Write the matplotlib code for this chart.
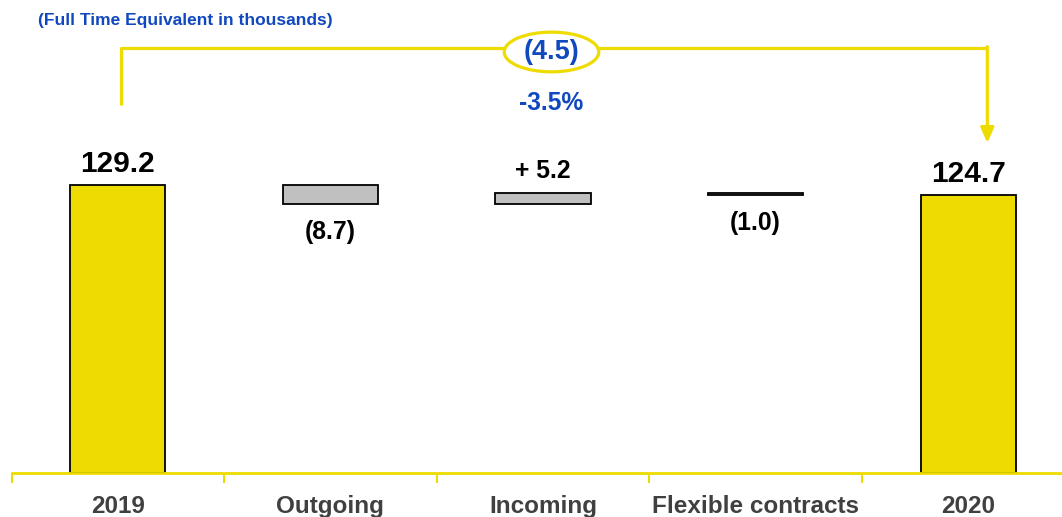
import numpy as np
import matplotlib.pyplot as plt
from matplotlib.patches import Ellipse

plt.rcParams['font.family'] = ['Liberation Sans', 'DejaVu Sans']
plt.rcParams['font.weight'] = 'bold'

categories = ['2019', 'Outgoing', 'Incoming', 'Flexible contracts', '2020']
start_value = 129.2
changes = [-8.7, 5.2, -1.0]
end_value = 124.7
labels = ['129.2', '(8.7)', '+ 5.2', '(1.0)', '124.7']
delta_label = '(4.5)'
pct_label = '-3.5%'
subtitle = '(Full Time Equivalent in thousands)'

YELLOW = '#EEDC00'
BLUE = '#1048C0'
GRAY = '#C0C0C0'

# waterfall bottoms / heights
bottoms = [0]
heights = [start_value]
running = start_value
for c in changes:
    lo = min(running, running + c)
    bottoms.append(lo)
    heights.append(abs(c))
    running += c
bottoms.append(0)
heights.append(end_value)
colors = [YELLOW, GRAY, GRAY, GRAY, YELLOW]

fig = plt.figure(figsize=(10.62, 5.17), dpi=100)
ax = fig.add_axes([11.5 / 1062, 44 / 517, 1 - 11.5 / 1062, 473 / 517])
x = np.arange(len(categories))
ax.bar(x, heights, bottom=bottoms, width=0.447, color=colors,
       edgecolor='black', linewidth=1.3, zorder=2)

ax.set_xlim(-0.5, -0.5 + (1062 - 11.5) / 212.6)
ax.set_ylim(0, 473 / 2.23)

for s in ['top', 'right', 'left']:
    ax.spines[s].set_visible(False)
ax.spines['bottom'].set_color(YELLOW)
ax.spines['bottom'].set_linewidth(2)
ax.set_yticks([])
ax.set_xticks(x)
ax.set_xticklabels(categories, fontsize=17.5, color='#404040', fontweight='bold')
ax.tick_params(axis='x', which='major', length=0, pad=15.5)
ax.set_xticks(np.arange(-0.5, 4.5, 1), minor=True)
ax.tick_params(axis='x', which='minor', length=7, width=1.5, color=YELLOW)

# value labels
for i, (b, h, lab) in enumerate(zip(bottoms, heights, labels)):
    if i in (0, 4):
        ax.annotate(lab, (i, b + h), xytext=(0, 13), textcoords='offset pixels',
                    ha='center', va='baseline', fontsize=21.5, fontweight='bold')
    elif lab.startswith('('):
        ax.annotate(lab, (i, b), xytext=(0, -16), textcoords='offset pixels',
                    ha='center', va='top', fontsize=17.8, fontweight='bold')
    else:
        ax.annotate(lab, (i, b + h), xytext=(0, 15), textcoords='offset pixels',
                    ha='center', va='baseline', fontsize=17.8, fontweight='bold')

# bracket showing overall change
top_y = 190.6
ax.plot([0.015, 0.015, 4.09], [165, top_y, top_y], color=YELLOW, lw=2.3,
        clip_on=False, solid_capstyle='butt', zorder=3)
ax.annotate('', xy=(4.09, 148), xytext=(4.09, top_y + 0.6),
            arrowprops=dict(arrowstyle='-|>,head_width=0.4,head_length=0.9',
                            color=YELLOW, lw=2.3, shrinkA=0, shrinkB=0),
            annotation_clip=False)
mid = 2.04
ax.add_patch(Ellipse((mid, 188.8), 0.445, 17.8, facecolor='white',
                     edgecolor=YELLOW, lw=2.3, zorder=4, clip_on=False))
ax.text(mid, 188.6, delta_label, ha='center', va='center', fontsize=19.5,
        fontweight='bold', color=BLUE, zorder=5)
ax.text(mid, 166, pct_label, ha='center', va='center', fontsize=17.7,
        fontweight='bold', color=BLUE)

fig.text(38 / 1062, 1 - 20 / 517, subtitle, ha='left', va='center',
         fontsize=12.5, fontweight='bold', color=BLUE)

fig.savefig('out.png', dpi=100)
